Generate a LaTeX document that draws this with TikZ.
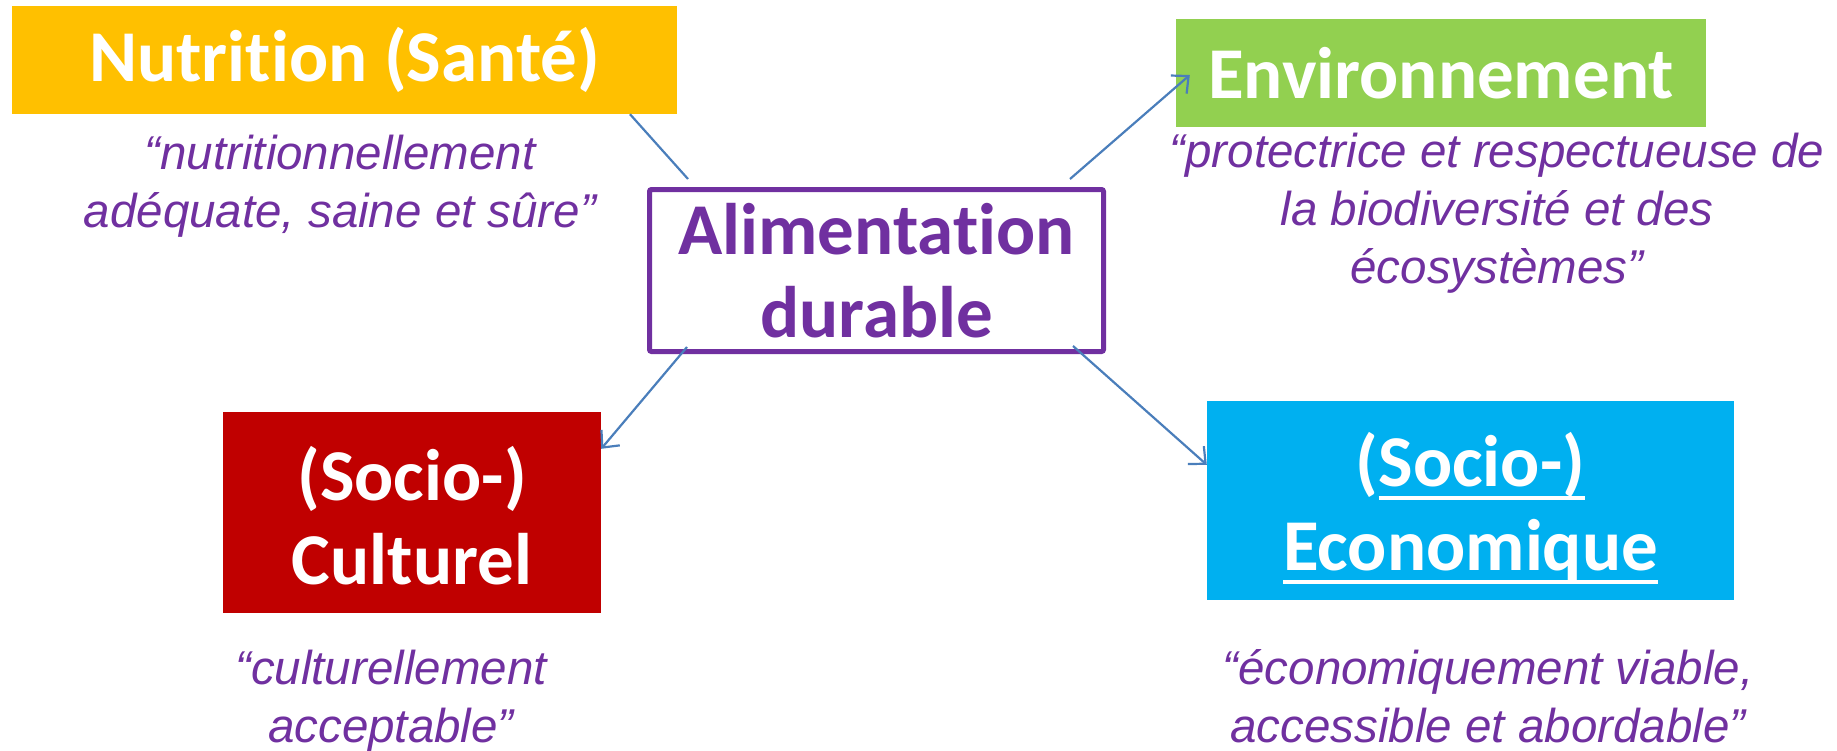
\documentclass[tikz,border=0pt]{standalone}
\usepackage{fontspec}
\setmainfont[Ligatures=NoCommon]{Carlito}
\newfontfamily\quotefont{Liberation Sans}
\usetikzlibrary{arrows.meta,calc}
\definecolor{nutricol}{HTML}{FFC000}
\definecolor{envcol}{HTML}{92D050}
\definecolor{cultcol}{HTML}{C00000}
\definecolor{ecocol}{HTML}{00B0F0}
\definecolor{violet}{HTML}{7030A0}
\definecolor{lineblue}{HTML}{4A7EBB}
\newcommand\myul[1]{\setbox0\hbox{#1}\rlap{\rule[-0.19em]{\wd0}{0.055em}}\box0}
\newcommand\topstrut[1]{\rule{0pt}{\dimexpr\fontcharht\font`\(+#1\relax}}
\tikzset{
  headbox/.style={rectangle, inner sep=0pt, text=white, align=center,
    font=\bfseries\fontsize{73}{84}\selectfont},
  centerbox/.style={rectangle, inner sep=0pt, draw=violet, line width=5pt,
    rounded corners=2pt, text=violet, align=center,
    font=\bfseries\fontsize{73}{83}\selectfont},
  quote/.style={inner sep=0pt, text=violet, align=center,
    font=\quotefont\itshape\fontsize{47.5}{58}\selectfont},
  conn/.style={draw=lineblue, line width=2.2pt},
  arrowed/.style={-{Straight Barb[length=13pt,width=24pt,line width=2.2pt]}}
}
\begin{document}
\begin{tikzpicture}[x=1pt,y=-1pt]
\useasboundingbox (0,0) rectangle (1837,750);
% boxes
\node[headbox, fill=nutricol, minimum width=665pt, minimum height=108pt] (nut) at (344.5,60) {Nutrition (Santé)};
\node[headbox, fill=envcol, minimum width=530pt, minimum height=108pt] (env) at (1441,73) {Environnement};
\node[headbox, fill=cultcol, minimum width=378pt, minimum height=201pt] (cult) at (412,512.5) {\topstrut{7pt}(Socio-)\\Culturel};
\node[headbox, fill=ecocol, minimum width=527pt, minimum height=199pt] (eco) at (1470.5,500.5) {\topstrut{15pt}(\myul{Socio-)}\\\myul{Economique}};
\node[centerbox, minimum width=454pt, minimum height=162pt] (alim) at (876.5,270.5) {Alimentation\\durable};
% quotes
\node[quote] (qnut) at (340,186) {“nutritionnellement\\adéquate, saine et sûre”};
\node[quote] (qenv) at (1497,213) {“protectrice et respectueuse de\\la biodiversité et des\\écosystèmes”};
\node[quote] (qcult) at (391,701) {“culturellement\\acceptable”};
\node[quote] (qeco) at (1488,696) {“économiquement viable,\\accessible et abordable”};
% connection points
\coordinate (pnw) at ($(alim.north west)+(41,-8)$);
\coordinate (pne) at ($(alim.north east)+(-36,-8)$);
\coordinate (psw) at ($(alim.south west)+(40,-7)$);
\coordinate (pse) at ($(alim.south east)+(-33,-8)$);
\coordinate (tenv) at ($(env.west)+(14,2)$);
\coordinate (tcult) at ($(cult.north east)+(0,37)$);
\coordinate (teco) at ($(eco.north west)+(0,64)$);
% connectors
\draw[conn] (630,0 |- nut.south) -- (pnw);
\draw[conn,arrowed] (pne) -- (tenv);
\draw[conn,arrowed] (psw) -- (tcult);
\draw[conn,arrowed] (pse) -- (teco);
\end{tikzpicture}
\end{document}
